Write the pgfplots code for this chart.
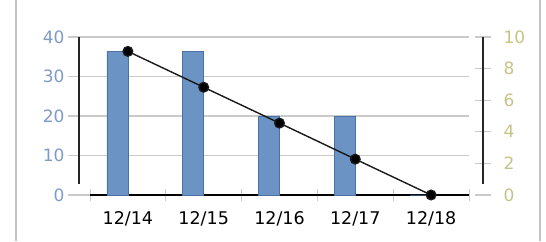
\documentclass[border=0pt]{standalone}
\usepackage{pgfplots}
\pgfplotsset{compat=1.18}
\usepackage{fontspec}
\setmainfont{DejaVu Sans}
\definecolor{barfill}{HTML}{6B93C4}
\definecolor{baredge}{HTML}{4A70A4}
\definecolor{leftlab}{HTML}{7D9AC8}
\definecolor{rightlab}{HTML}{C4C483}
\definecolor{gridc}{HTML}{CACACA}
\definecolor{framec}{HTML}{C4C4C4}
\begin{document}
\begin{tikzpicture}
\path[use as bounding box] (0pt,0pt) rectangle (546pt,241pt);
\draw[framec, line width=1.5pt] (16pt,0pt) -- (16pt,241pt);
\draw[framec, line width=1.5pt] (540pt,0pt) -- (540pt,241pt);
\begin{axis}[
  at={(90pt,46pt)}, anchor=south west,
  scale only axis, width=379pt, height=158pt,
  xmin=-0.5, xmax=4.5, ymin=0, ymax=40,
  axis x line*=bottom, axis y line=none,
  x axis line style={draw=none},
  xtick={-0.5,0.5,1.5,2.5,3.5,4.5}, xticklabels={},
  ytick=\empty,
  major x tick style={gridc, line width=1pt},
  tick align=center, major tick length=12pt,
]
\addplot[draw=none] coordinates {(0,0)};
\end{axis}
\begin{axis}[
  at={(90pt,46pt)}, anchor=south west,
  scale only axis, width=379pt, height=158pt,
  xmin=-0.5, xmax=4.5, ymin=0, ymax=40,
  axis x line*=bottom, axis y line*=left,
  x axis line style={black, line width=1.5pt, -},
  y axis line style={draw=none},
  xtick={0,1,2,3,4},
  xticklabels={12/14,12/15,12/16,12/17,12/18},
  major x tick style={draw=none},
  ytick={0,10,20,30,40},
  ymajorgrids, grid style={gridc, line width=1.2pt},
  major y tick style={gridc, line width=1.2pt},
  tick align=outside, major tick length=22pt,
  /pgf/number format/assume math mode=true,
  yticklabel style={font=\fontsize{17}{19}\selectfont, text=leftlab},
  xticklabel style={font=\fontsize{17.5}{19}\selectfont, text=black, yshift=9pt},
  clip=false,
]
\addplot[ybar, bar width=21pt, bar shift=-10.5pt, fill=barfill, draw=baredge, line width=0.8pt]
  coordinates {(0,36.3) (1,36.3) (2,20) (3,20) (4,0)};
\end{axis}
\begin{axis}[
  at={(90pt,46pt)}, anchor=south west,
  scale only axis, width=393pt, height=158pt,
  xmin=-0.5, xmax=4.6847, ymin=0, ymax=10,
  axis x line=none, axis y line*=right,
  y axis line style={draw=none},
  ytick={0,2,4,6,8,10},
  major y tick style={gridc, line width=1.2pt},
  tick align=center, major tick length=16pt,
  /pgf/number format/assume math mode=true,
  yticklabel style={font=\fontsize{17}{19}\selectfont, text=rightlab, xshift=9pt},
  clip=false,
]
\addplot[black!90, line width=1.4pt, mark=*, mark size=4.8pt, mark options={fill=black}]
  coordinates {(0,9.09) (1,6.82) (2,4.55) (3,2.27) (4,0)};
\end{axis}
\draw[black!85, line width=1.8pt] (79pt,204pt) -- (79pt,57pt);
\draw[black!85, line width=1.8pt] (483pt,204pt) -- (483pt,57pt);
\end{tikzpicture}
\end{document}
